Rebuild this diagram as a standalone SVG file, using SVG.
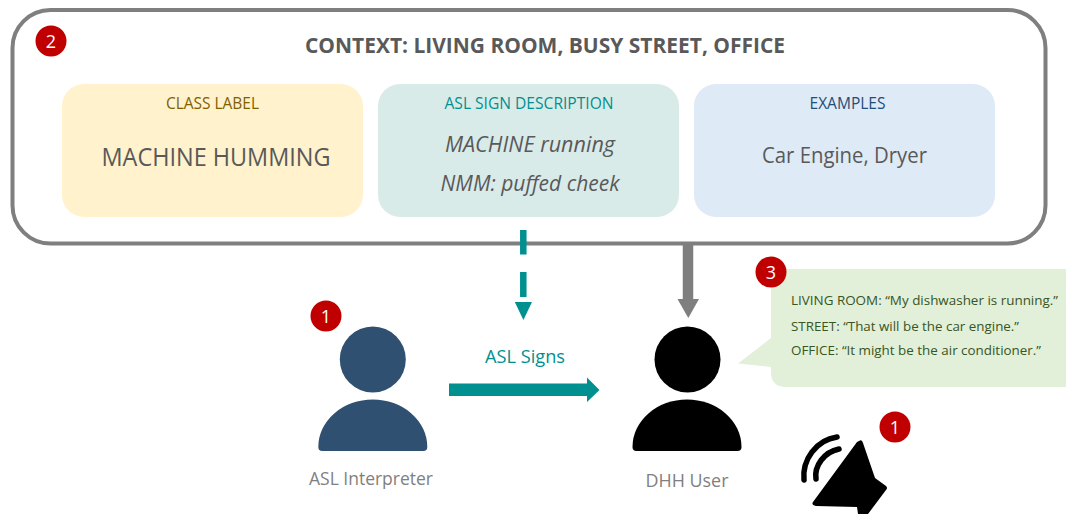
<svg xmlns="http://www.w3.org/2000/svg" width="1066" height="514" viewBox="0 0 1066 514">
<style>
text{font-family:"Open Sans","Noto Sans","Liberation Sans",sans-serif;text-anchor:middle}
.badge circle{fill:#c00000}
.badge text{fill:#fff;font-size:18px}
.card{stroke:none}
.head{font-size:16px}
.body{fill:#595959;font-size:22px}
.quote{fill:#375623;font-size:13.300px;text-anchor:start}
.cap{fill:#7f7f7f;font-size:18px}
</style>
<rect width="1066" height="514" fill="#fff"/>
<g id="context">
<rect x="12.500" y="10" width="1033" height="233.500" rx="38" fill="#fff" stroke="#7f7f7f" stroke-width="4"/>
<text x="545" y="53" font-size="21" font-weight="700" fill="#595959" textLength="480" lengthAdjust="spacingAndGlyphs">CONTEXT: LIVING ROOM, BUSY STREET, OFFICE</text>
</g>
<g id="class-label">
<rect class="card" x="62" y="84" width="301" height="133" rx="22" fill="#fff2cc"/>
<text class="head" x="212.500" y="109" fill="#7f6000" textLength="93" lengthAdjust="spacingAndGlyphs">CLASS LABEL</text>
<text class="body" x="216" y="166" style="font-size:25px" textLength="229" lengthAdjust="spacingAndGlyphs">MACHINE HUMMING</text>
</g>
<g id="asl-description">
<rect class="card" x="378" y="84" width="301" height="133" rx="22" fill="#d9ebe9"/>
<text class="head" x="529" y="109" fill="#009090" textLength="169" lengthAdjust="spacingAndGlyphs">ASL SIGN DESCRIPTION</text>
<text class="body" x="530" y="152" font-style="italic" textLength="170" lengthAdjust="spacingAndGlyphs">MACHINE running</text>
<text class="body" x="530" y="191" font-style="italic" textLength="179" lengthAdjust="spacingAndGlyphs">NMM: puffed cheek</text>
</g>
<g id="examples">
<rect class="card" x="694" y="84" width="301" height="133" rx="22" fill="#deeaf6"/>
<text class="head" x="847.500" y="109" fill="#1f4e79" textLength="76" lengthAdjust="spacingAndGlyphs">EXAMPLES</text>
<text class="body" x="844.500" y="163" textLength="165" lengthAdjust="spacingAndGlyphs">Car Engine, Dryer</text>
</g>
<g id="connectors">
<path d="M523.300 230v24.500M523.300 272v25" stroke="#009090" stroke-width="6.500" fill="none"/>
<path d="M514.800 302h17.200l-8.600 18z" fill="#009090"/>
<path d="M688 245v55" stroke="#7f7f7f" stroke-width="10.500" fill="none"/>
<path d="M677.500 299h21.500l-10.700 19z" fill="#7f7f7f"/>
<path d="M449 383.500h138v-6l12.500 12.500-12.500 12v-6h-138z" fill="#009090"/>
</g>
<g id="asl-signs-label"><text x="525" y="363" font-size="18" fill="#009090" textLength="80" lengthAdjust="spacingAndGlyphs">ASL Signs</text></g>
<g id="asl-interpreter">
<circle cx="372.800" cy="359.500" r="33" fill="#2f5070"/>
<path d="M318.300 447A54.500 47.500 0 0 1 427.300 447q0 4-4 4H322.300q-4 0-4-4z" fill="#2f5070"/>
<text class="cap" x="371" y="485" textLength="124" lengthAdjust="spacingAndGlyphs">ASL Interpreter</text>
</g>
<g id="dhh-user">
<circle cx="687.500" cy="359.500" r="33" fill="#000"/>
<path d="M632.500 447A54.500 47.500 0 0 1 741.500 447q0 4-4 4H636.500q-4 0-4-4z" fill="#000"/>
<text class="cap" x="687" y="487" textLength="83" lengthAdjust="spacingAndGlyphs">DHH User</text>
</g>
<g id="speech-bubble">
<path d="M785 269H1066V387H786q-15 0-15-15v-5l-33-3.500 33-25.500V284q0-15 14-15z" fill="#e2efd9"/>
<text class="quote" x="791" y="305" textLength="267" lengthAdjust="spacingAndGlyphs">LIVING ROOM: “My dishwasher is running.”</text>
<text class="quote" x="791" y="331" textLength="228" lengthAdjust="spacingAndGlyphs">STREET: “That will be the car engine.”</text>
<text class="quote" x="791" y="355" textLength="250" lengthAdjust="spacingAndGlyphs">OFFICE: “It might be the air conditioner.”</text>
</g>
<g id="speaker">
<path d="M859 441q3-2 4 2l12 35 11 8q2 2 0 4l-18 24h-10l-1-7-41-1q-5-1-3-4l44-60z" fill="#000"/>
<path d="M804 480c-2-20 12-40 33-43M816 479c-2-13 8-27 23-30" fill="none" stroke="#000" stroke-width="5.500" stroke-linecap="round"/>
</g>
<g id="badge-2" class="badge"><circle cx="51" cy="41" r="15.500"/><text x="51" y="47.500">2</text></g>
<g id="badge-1a" class="badge"><circle cx="326" cy="316" r="15.500"/><text x="326" y="322.500">1</text></g>
<g id="badge-3" class="badge"><circle cx="771" cy="272" r="15.500"/><text x="771" y="278.500">3</text></g>
<g id="badge-1b" class="badge"><circle cx="895" cy="427" r="15.500"/><text x="895" y="433.500">1</text></g>
</svg>
